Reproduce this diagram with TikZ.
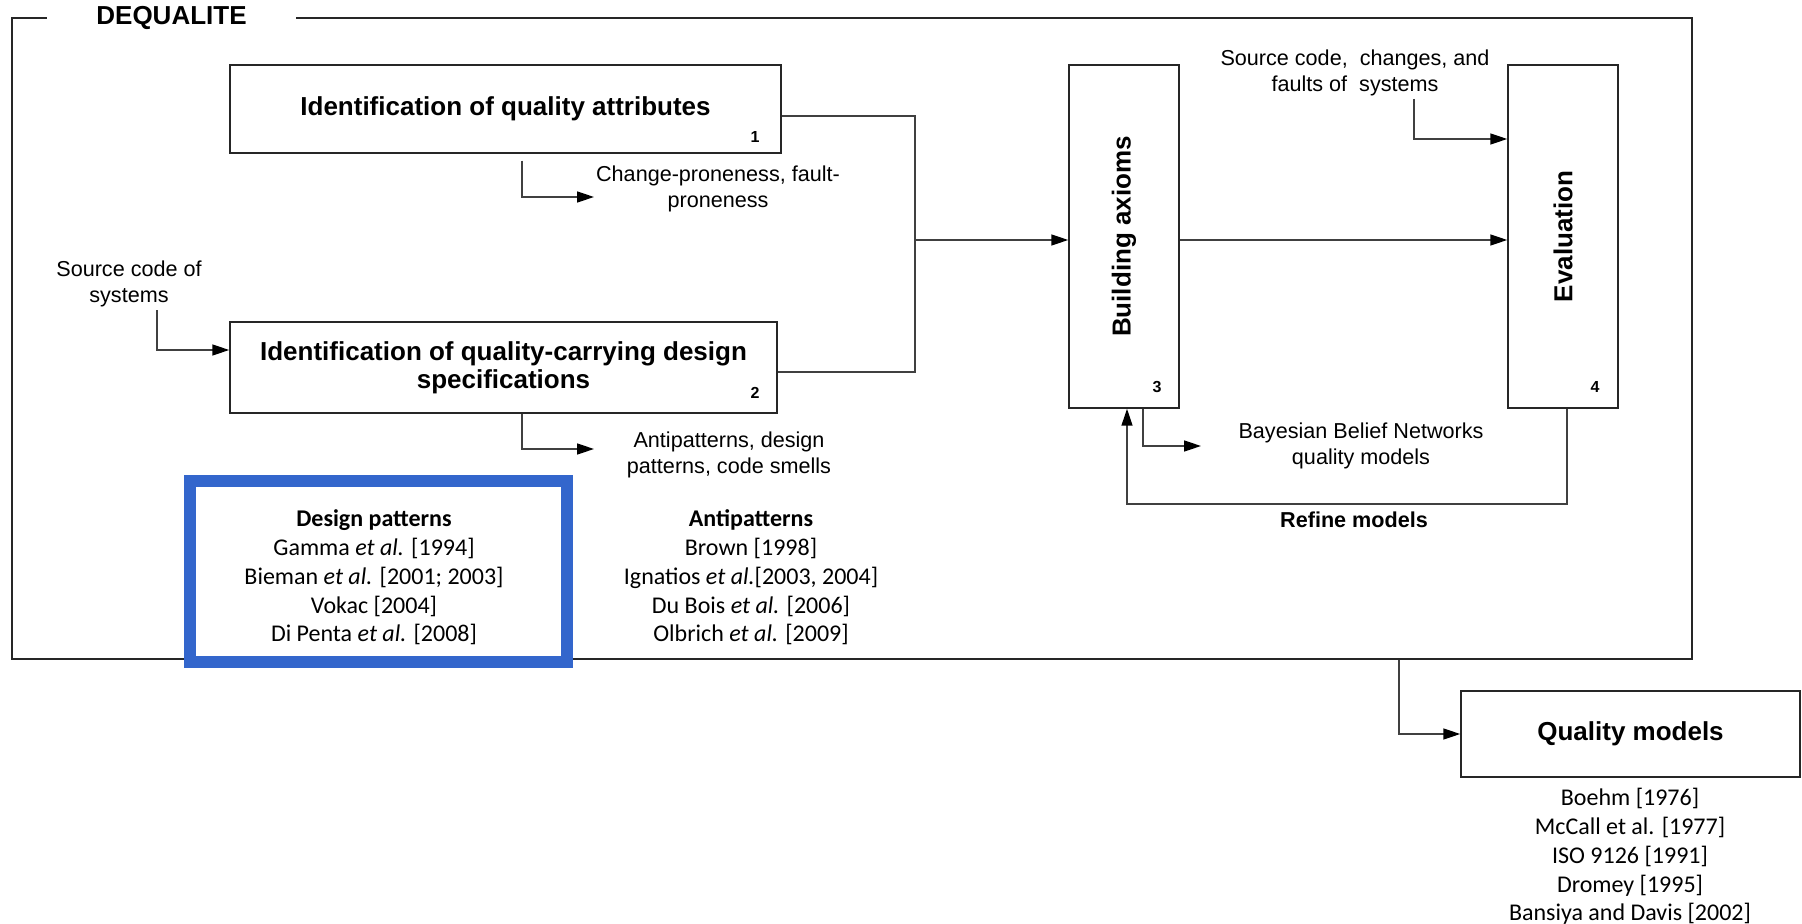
\documentclass[tikz,border=0pt]{standalone}
\usepackage{fontspec}
\setmainfont{Liberation Sans}
\newfontfamily\calibri{Carlito}
\usetikzlibrary{arrows.meta}
\definecolor{dpblue}{RGB}{51,102,204}

\begin{document}
\begin{tikzpicture}[x=0.5pt, y=-0.5pt,
  stage/.style={draw=black!85, line width=0.75pt, fill=white, inner sep=0pt, align=center,
    font=\bfseries\fontsize{13}{14}\selectfont},
  lbl/.style={align=center, inner sep=1.5pt, font=\fontsize{10.8}{13}\selectfont},
  num/.style={inner sep=0pt, font=\bfseries\fontsize{8}{9}\selectfont},
  refs/.style={align=center, inner sep=0pt, font=\calibri\fontsize{12}{14.4}\selectfont},
  conn/.style={draw=black!75, line width=0.75pt},
  arr/.style={conn, -{Triangle[length=8.5pt,width=5.5pt,color=black]}}]
  \useasboundingbox (0,0) rectangle (1802,924);

  % DEQUALITE frame
  \node[draw=black!85, line width=0.7pt, minimum width=840pt, minimum height=320.5pt, inner sep=0pt] (dq) at (852,338.5) {};
  \node[fill=white, minimum width=124.5pt, inner sep=1pt, font=\bfseries\fontsize{13}{15}\selectfont] (dqt) at (171.5,18) {DEQUALITE};

  % steps of the approach
  \node[stage, minimum width=275.5pt, minimum height=44pt] (b1) at (505.5,109) {Identification of quality attributes};
  \node[stage, minimum width=273.5pt, minimum height=45.5pt] (b2) at (503.5,367.5) {Identification of quality-carrying design\\specifications};
  \node[stage, minimum width=55pt, minimum height=171.5pt] (b3) at (1124,236.5) {};
  \node[stage, minimum width=55pt, minimum height=171.5pt] (b4) at (1563,236.5) {};
  \node[stage, rotate=90, draw=none, fill=none] (b3t) at (b3.center) {Building axioms};
  \node[stage, rotate=90, draw=none, fill=none] (b4t) at (b4.center) {Evaluation};
  \node[stage, minimum width=169.5pt, minimum height=43pt] (qm) at (1630.5,734) {Quality models};

  % step numbers
  \node[num] (n1) at (755,137) {1};
  \node[num] (n2) at (755,393) {2};
  \node[num] (n3) at (1157,387) {3};
  \node[num] (n4) at (1595,387) {4};

  % inputs and outputs
  \node[lbl] (chg) at (718,189) {Change-proneness, fault-\\proneness};
  \node[lbl] (apl) at (729,455) {Antipatterns, design\\patterns, code smells};
  \node[lbl] (src) at (129,284) {Source code of\\systems};
  \node[lbl] (srcb) at (1355,72.5) {Source code,\ \ changes, and\\faults of\ \ systems};
  \node[lbl] (bbn) at (1361,445.5) {Bayesian Belief Networks\\quality models};
  \node[lbl, font=\bfseries\fontsize{10.8}{13}\selectfont] (rm) at (1354,520) {Refine models};

  % related work
  \node[draw=dpblue, line width=6pt, fill=white, minimum width=188.5pt, minimum height=90.5pt, inner sep=0pt] (dpb) at (378,571.5) {};
  \node[refs] (dp) at (374,577.5) {\textbf{Design patterns}\\Gamma \textit{et al.} [1994]\\Bieman \textit{et al.} [2001; 2003]\\Vokac [2004]\\Di Penta \textit{et al.} [2008]};
  \node[refs] (ap) at (751,577.5) {\textbf{Antipatterns}\\Brown [1998]\\Ignatios \textit{et al.}[2003, 2004]\\Du Bois \textit{et al.} [2006]\\Olbrich \textit{et al.} [2009]};
  \node[refs] (qr) at (1630,856.5) {Boehm [1976]\\McCall et al. [1977]\\ISO 9126 [1991]\\Dromey [1995]\\Bansiya and Davis [2002]};

  % arrow tips of the outputs
  \coordinate (t1) at (594,197);
  \coordinate (t2) at (594,449);
  \coordinate (t3) at (1201,446);
  \coordinate (jn) at (915,240);

  % connectors
  \draw[arr] ([xshift=8.25pt,yshift=-3.5pt]b1.south) |- (t1);
  \draw[arr] ([xshift=9.25pt]b2.south) |- (t2);
  \draw[arr] ([xshift=9.5pt]b3.south) |- (t3);
  \draw[arr] ([xshift=14pt]src.south) |- ([yshift=8.75pt]b2.west);
  \draw[arr] ([xshift=29.5pt]srcb.south) |- ([yshift=48.75pt]b4.west);
  \draw[conn] ([yshift=-3.5pt]b1.east) -| (jn) |- ([yshift=-2.25pt]b2.east);
  \draw[arr] (jn) -- (jn -| b3.west);
  \draw[arr] ([yshift=-1.75pt]b3.east) -- ([yshift=-1.75pt]b4.west);
  \draw[arr] ([xshift=2pt]b4.south) -- ++(0,95) -| ([xshift=1.5pt]b3.south);
  \draw[arr] ([xshift=273.5pt]dq.south) |- (qm.west);
\end{tikzpicture}
\end{document}
